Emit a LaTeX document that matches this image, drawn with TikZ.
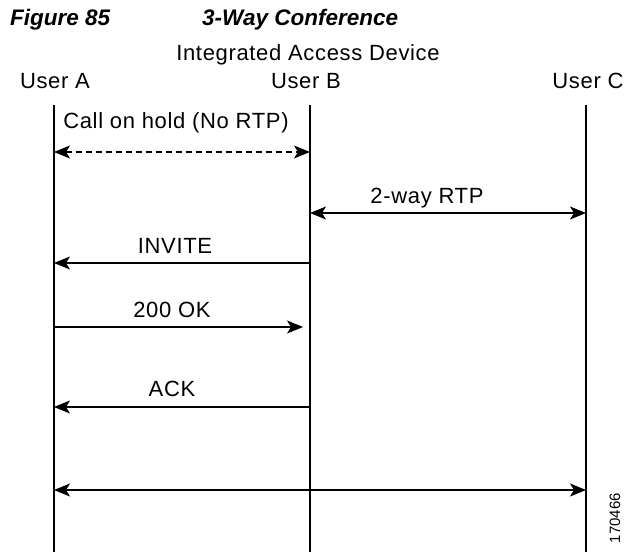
\documentclass[tikz,border=0pt]{standalone}
\usepackage{fontspec}
\setmainfont{Liberation Sans}
\newfontfamily\lblfont{Liberation Sans}[LetterSpace=3]
\usetikzlibrary{arrows.meta}

\tikzset{
  lbl/.style={font=\fontsize{22}{26}\selectfont\lblfont, inner sep=0pt, anchor=base},
  ttl/.style={font=\fontsize{22.5}{26}\selectfont\bfseries\itshape, inner sep=0pt, anchor=base west},
  life/.style={line width=1.5pt},
  msg/.style={line width=1.3pt, -{Stealth[length=16pt,width=13pt,inset=4pt]}},
  both/.style={line width=1.3pt, {Stealth[length=16pt,width=13pt,inset=4pt]}-{Stealth[length=16pt,width=13pt,inset=4pt]}},
}

\begin{document}
\begin{tikzpicture}[x=1pt,y=-1pt]
  \useasboundingbox (0,0) rectangle (627,552);

  % Titulo
  \node[ttl] (fig) at (10,25) {Figure 85};
  \node[ttl] (title) at (202,25) {3-Way Conference};

  % Cabeceras
  \node[lbl] (iad) at (308,60) {Integrated Access Device};
  \node[lbl] (usera) at (55,88) {User A};
  \node[lbl] (userb) at (306,88) {User B};
  \node[lbl] (userc) at (588,88) {User C};

  % Lineas de vida
  \foreach \n/\x in {a/54,b/310,c/586} {
    \coordinate (\n top) at (\x,105);
    \coordinate (\n bot) at (\x,552);
    \draw[life] (\n top) -- (\n bot);
  }

  % Puntos de los mensajes
  \coordinate (hold a) at (54,152);  \coordinate (hold b) at (310,152);
  \coordinate (rtp b) at (310,213);  \coordinate (rtp c) at (586,213);
  \coordinate (inv b) at (310,263);  \coordinate (inv a) at (54,263);
  \coordinate (ok a) at (54,327);    \coordinate (ok b) at (303,327);
  \coordinate (ack b) at (310,407);  \coordinate (ack a) at (54,407);
  \coordinate (conf a) at (54,490);  \coordinate (conf c) at (586,490);

  % Mensajes
  \draw[both, dashed, dash pattern=on 6pt off 4pt] (hold a) -- (hold b);
  \node[lbl] (holdlbl) at (176,128) {Call on hold (No RTP)};

  \draw[both] (rtp b) -- (rtp c);
  \node[lbl] (rtplbl) at (427,203) {2-way RTP};

  \draw[msg] (inv b) -- (inv a);
  \node[lbl] (invlbl) at (175,253) {INVITE};

  \draw[msg] (ok a) -- (ok b);
  \node[lbl] (oklbl) at (172,317) {200 OK};

  \draw[msg] (ack b) -- (ack a);
  \node[lbl] (acklbl) at (172,396) {ACK};

  \draw[both] (conf a) -- (conf c);

  % Numero
  \node[font=\fontsize{15}{18}\selectfont, inner sep=0pt, rotate=90] (num) at (615,518) {170466};
\end{tikzpicture}
\end{document}
